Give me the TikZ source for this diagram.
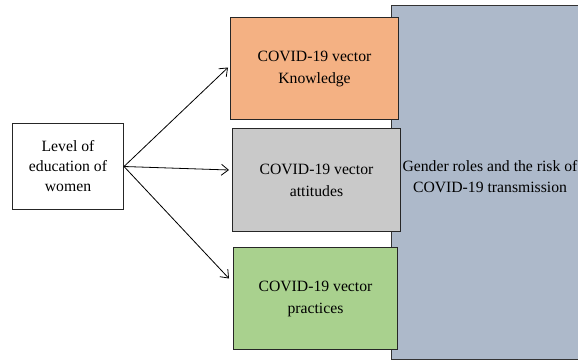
\documentclass[tikz,border=0pt]{standalone}
\usepackage{fontspec}
\setmainfont{Liberation Serif}
\usetikzlibrary{arrows.meta}
\definecolor{knowfill}{HTML}{F4B183}
\definecolor{attfill}{HTML}{C9C9C9}
\definecolor{pracfill}{HTML}{A9D18E}
\definecolor{genderfill}{HTML}{ADB9CA}
\begin{document}
\begin{tikzpicture}[x=1pt,y=-1pt,
  box/.style={draw=black!85, line width=1pt, inner sep=0pt, align=center,
    font=\fontsize{15.7}{22}\selectfont},
  link/.style={line width=0.8pt, -{Straight Barb[length=7pt,width=11pt]}}]
\useasboundingbox (0,0) rectangle (578,361);
% outcome panel on the right
\path[fill=genderfill] (391,6) rectangle (578,359);
\draw[black!80, line width=1pt] (578,6) -- (391,6) -- (391,359) -- (578,359);
\node[font=\fontsize{15.7}{21}\selectfont, align=center] (gender) at (490,177)
  {Gender roles and the risk of\\COVID-19 transmission};
% intermediate boxes
\node[box, fill=knowfill, minimum width=168pt, minimum height=102pt,
  anchor=north west] (know) at (230,17) {COVID-19 vector\\Knowledge};
\node[box, fill=attfill, minimum width=168pt, minimum height=103pt,
  anchor=north west] (att) at (232,128) {COVID-19 vector\\attitudes};
\node[box, fill=pracfill, minimum width=164pt, minimum height=102pt,
  anchor=north west] (prac) at (233,247) {COVID-19 vector\\practices};
% source box
\node[box, fill=white, minimum width=111pt, minimum height=86pt,
  anchor=north west, font=\fontsize{15.7}{20}\selectfont] (edu) at (12,123)
  {Level of\\education of\\women};
% links
\coordinate (src) at (edu.east);
\draw[link] (src) -- ([xshift=-2pt,yshift=1pt]know.west);
\draw[link] (src) -- ([xshift=-3pt,yshift=10pt]att.west);
\draw[link] (src) -- ([xshift=-4pt,yshift=20pt]prac.west);
\end{tikzpicture}
\end{document}
